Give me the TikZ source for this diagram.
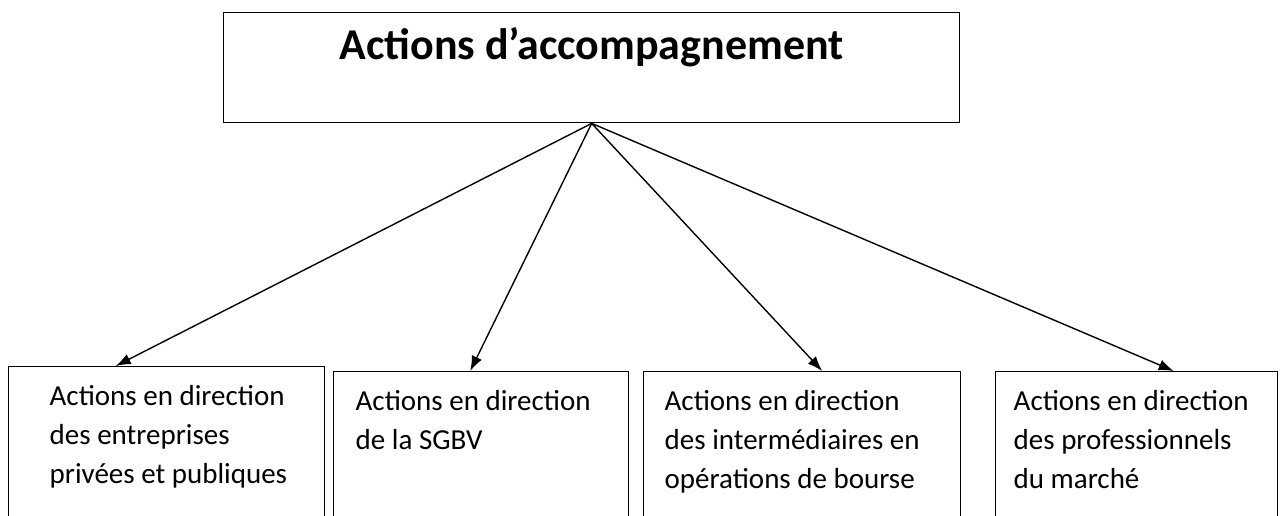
\documentclass[tikz,border=0pt]{standalone}
\usepackage{fontspec}
\setmainfont{Carlito}
\usetikzlibrary{arrows.meta}

\begin{document}
\begin{tikzpicture}[x=1pt, y=-1pt, line width=1.4pt,
  box/.style={draw, anchor=north west, minimum height=200pt},
  txt/.style={anchor=north west, inner sep=0pt, align=left, font=\fontsize{29}{39}\selectfont},
  arr/.style={-{Latex[length=15pt,width=11pt]}}]
\useasboundingbox (0,0) rectangle (1285,516);
\node[draw, anchor=north west, inner sep=0pt, minimum width=736pt, text height=47pt, text depth=63pt,
  font=\bfseries\fontsize{44}{52}\selectfont] (h) at (223,12) {Actions d’accompagnement};
\node[box, minimum width=316pt] (a1) at (8,366) {};
\node[box, minimum width=295pt] (a2) at (333,371) {};
\node[box, minimum width=317pt] (a3) at (643,371) {};
\node[box, minimum width=282pt] (a4) at (995,371) {};
\node[txt] (t1) at ([xshift=41pt, yshift=-19pt]a1.north west) {Actions en direction\\des entreprises\\privées et publiques};
\node[txt] (t2) at ([xshift=22pt, yshift=-19pt]a2.north west) {Actions en direction\\de la SGBV};
\node[txt] (t3) at ([xshift=21pt, yshift=-19pt]a3.north west) {Actions en direction\\des intermédiaires en\\opérations de bourse};
\node[txt] (t4) at ([xshift=18pt, yshift=-19pt]a4.north west) {Actions en direction\\des professionnels\\du marché};
\draw[arr] (h.south) -- ([xshift=-51pt]a1.north);
\draw[arr] (h.south) -- ([xshift=-11pt]a2.north);
\draw[arr] (h.south) -- ([xshift=20pt]a3.north);
\draw[arr] (h.south) -- ([xshift=37pt]a4.north);
\end{tikzpicture}
\end{document}
